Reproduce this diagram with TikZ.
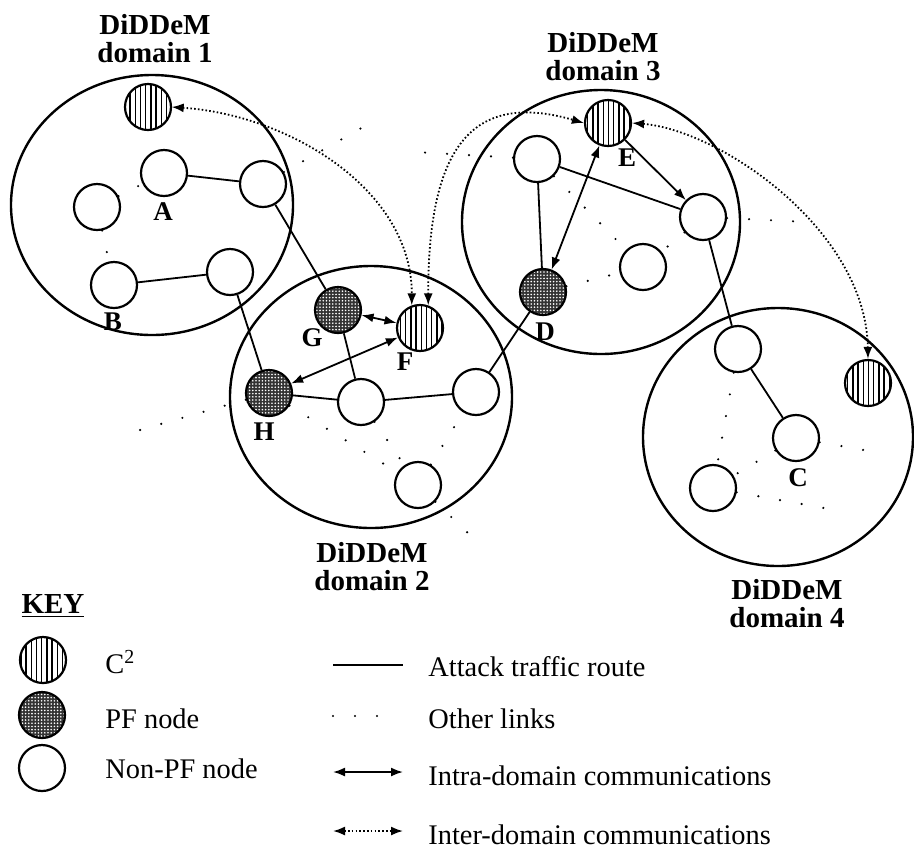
\documentclass[tikz,border=0pt]{standalone}
\usepackage{fontspec}
\setmainfont{Liberation Serif}
\usetikzlibrary{arrows.meta,patterns.meta}

\begin{document}
\begin{tikzpicture}[x=0.5pt,y=-0.5pt,
  zone/.style={line width=1.2pt},
  nonpf/.style={circle,draw,line width=1.1pt,fill=white,minimum size=23pt,inner sep=0pt},
  ccnode/.style={nonpf,preaction={fill=white},pattern={Lines[angle=90,distance=2.6pt,line width=0.7pt]}},
  pfnode/.style={nonpf,preaction={fill=black!80},pattern={Dots[distance=1.6pt,radius=0.45pt]},pattern color=white},
  attack/.style={line width=0.9pt},
  other/.style={line width=1.2pt,line cap=round,dash pattern=on 0pt off 11pt},
  intra/.style={line width=0.9pt,{Latex[length=6pt,width=4.5pt]}-{Latex[length=6pt,width=4.5pt]}},
  inter/.style={line width=0.9pt,dash pattern=on 0.8pt off 1.1pt,{Latex[length=6pt,width=4.5pt]}-{Latex[length=6pt,width=4.5pt]}},
  lbl/.style={font=\bfseries\fontsize{13.5}{14}\selectfont},
  dlbl/.style={align=center,font=\bfseries\fontsize{14.5}{14}\selectfont},
  keytxt/.style={anchor=west,inner sep=0pt,font=\fontsize{14.2}{16}\selectfont}]
\useasboundingbox (0,0) rectangle (914,848);
\fill[white] (0,0) rectangle (914,848);

\draw[zone] (152,205) ellipse [x radius=141, y radius=130];
\draw[zone] (371,397) ellipse [x radius=141, y radius=131];
\draw[zone] (601,222) ellipse [x radius=139, y radius=132];
\draw[zone] (778,437) ellipse [x radius=135, y radius=129];

\node[dlbl] (dom1) at (155,39) {DiDDeM\\domain 1};
\node[dlbl] (dom2) at (372,567) {DiDDeM\\domain 2};
\node[dlbl] (dom3) at (603,57) {DiDDeM\\domain 3};
\node[dlbl] (dom4) at (787,604) {DiDDeM\\domain 4};

% domain 1
\node[ccnode] (cc1) at (148,107) {};
\node[nonpf] (a) at (164,173) {};
\node[nonpf] (a2) at (263,184) {};
\node[nonpf] (w1) at (97,207) {};
\node[nonpf] (b) at (114,285) {};
\node[nonpf] (b2) at (230,272) {};
% domain 2
\node[pfnode] (g) at (338,310) {};
\node[ccnode] (f) at (420,328) {};
\node[pfnode] (h) at (269,393) {};
\node[nonpf] (m2) at (361,402) {};
\node[nonpf] (r2) at (476,392) {};
\node[nonpf] (s2) at (418,485) {};
% domain 3
\node[ccnode] (e) at (608,123) {};
\node[nonpf] (t3) at (537,159) {};
\node[nonpf] (r3) at (703,217) {};
\node[nonpf] (m3) at (643,267) {};
\node[pfnode] (d) at (543,292) {};
% domain 4
\node[nonpf] (t4) at (738,349) {};
\node[ccnode] (cc4) at (868,383) {};
\node[nonpf] (c) at (796,438) {};
\node[nonpf] (l4) at (713,488) {};

\node[lbl] (la) at (163,212) {A};
\node[lbl] (lb) at (113,322) {B};
\node[lbl] (lc) at (798,478) {C};
\node[lbl] (ld) at (545,332) {D};
\node[lbl] (le) at (627,158) {E};
\node[lbl] (lf) at (405,362) {F};
\node[lbl] (lg) at (312,338) {G};
\node[lbl] (lh) at (264,432) {H};

\coordinate (hx) at (140,430);
\coordinate (sx) at (472,537);
\coordinate (tx) at (415,152);
\coordinate (ax) at (372,122);
\coordinate (rx) at (808,222);
\coordinate (lx) at (835,510);
\coordinate (cx) at (875,452);

\draw[other] (w1) -- (a);
\draw[other] (w1) -- (b);
\draw[other] (a2) -- (ax);
\draw[other] (h) -- (hx);
\draw[other] (h) -- (s2);
\draw[other] (m2) -- (s2);
\draw[other] (s2) -- (r2);
\draw[other] (s2) -- (sx);
\draw[other] (t3) -- (tx);
\draw[other] (t3) -- (m3);
\draw[other] (r3) -- (m3);
\draw[other] (d) -- (m3);
\draw[other] (r3) -- (rx);
\draw[other] (t4) -- (l4);
\draw[other] (c) -- (l4);
\draw[other] (l4) -- (lx);
\draw[other] (c) -- (cx);

\draw[attack] (a) -- (a2);
\draw[attack] (b) -- (b2);
\draw[attack] (a2) -- (g);
\draw[attack] (b2) -- (h);
\draw[attack] (h) -- (m2);
\draw[attack] (m2) -- (r2);
\draw[attack] (g) -- (m2);
\draw[attack] (r2) -- (d);
\draw[attack] (t3) -- (r3);
\draw[attack] (t3) -- (d);
\draw[attack] (r3) -- (t4);
\draw[attack] (t4) -- (c);
\draw[attack,-{Latex[length=6pt,width=4.5pt]}] (e) -- (r3);

\draw[intra] (g) -- (f);
\draw[intra] (h) -- (f);
\draw[intra] (e) -- (d);

\draw[inter] (cc1.east) .. controls (290,115) and (412,190) .. (f.110);
\draw[inter] (f.70) .. controls (428,150) and (470,90) .. (e.west);
\draw[inter] (e.east) .. controls (720,130) and (866,230) .. (cc4.north);

% key
\node[font=\bfseries\fontsize{14.5}{16}\selectfont] (key) at (53,606) {\underline{KEY}};
\node[ccnode] (kcc) at (43,660) {};
\node[pfnode] (kpf) at (42,715) {};
\node[nonpf] (knpf) at (42,768) {};
\node[keytxt] (tcc) at (105,662) {C\textsuperscript{2}};
\node[keytxt] (tpf) at (105,719) {PF node};
\node[keytxt] (tnpf) at (105,769) {Non-PF node};

\coordinate (k1a) at (333,665); \coordinate (k1b) at (403,665);
\coordinate (k2a) at (333,716); \coordinate (k2b) at (382,716);
\coordinate (k3a) at (333,772); \coordinate (k3b) at (403,772);
\coordinate (k4a) at (333,831); \coordinate (k4b) at (403,831);
\draw[attack] (k1a) -- (k1b);
\draw[other] (k2a) -- (k2b);
\draw[intra] (k3a) -- (k3b);
\draw[inter] (k4a) -- (k4b);
\node[keytxt] (t1) at (428,667) {Attack traffic route};
\node[keytxt] (t2) at (428,719) {Other links};
\node[keytxt] (t3k) at (428,776) {Intra-domain communications};
\node[keytxt] (t4k) at (428,835) {Inter-domain communications};
\end{tikzpicture}
\end{document}
